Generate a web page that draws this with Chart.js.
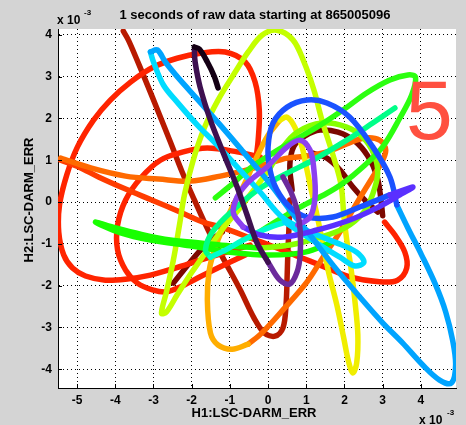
<!DOCTYPE html>
<html lang="en">
<head>
  <meta charset="UTF-8">
  <script src="https://cdn.jsdelivr.net/npm/chart.js"></script>
  <title>H1 vs H2</title>
  <style>
    body { margin: 0; background: #d4d4d4; }
    .grafico { width: 466px; height: 425px; }
  </style>
</head>
<body>
  <div class="grafico">
    <canvas id="graficoLissajous"></canvas>
  </div>

  <script>
    // axis ticks (units of 1e-3)
    const xTicks = [-5, -4, -3, -2, -1, 0, 1, 2, 3, 4];
    const yTicks = [-4, -3, -2, -1, 0, 1, 2, 3, 4];

    // trajectory pieces, [H1, H2], in drawing order
    const maroonA = [[-2.48,-1.94],[-2.04,-1.44],[-1.59,-0.98],[-1.20,-0.72]];
    const maroonB = [[0.63,0.29],[0.57,0.89],[0.68,1.34],[0.97,1.58],[1.36,1.72],[1.83,1.67],[2.27,1.46],[2.61,1.10],[2.85,0.62],[2.95,0.10],[3.00,-0.33]];
    const maroonC = [[1.17,1.17],[1.54,1.05],[1.88,0.77],[2.22,0.36],[2.56,0.02],[2.87,-0.24]];
    const darkRed = [[-3.79,4.09],[-3.66,3.88],[-3.45,3.44],[-3.19,2.87],[-2.87,2.15],[-2.56,1.44],[-2.25,0.72],[-1.93,0.05],[-1.57,-0.67],[-1.15,-1.39],[-0.73,-2.10],[-0.37,-2.77],[-0.10,-3.13],[0.18,-3.21],[0.39,-3.01],[0.47,-2.46],[0.50,-1.75],[0.52,-1.15],[0.55,-0.55],[0.57,0.05]];
    const redBig = [[-0.34,0.89],[-0.26,1.48],[-0.23,2.20],[-0.34,2.87],[-0.60,3.35],[-1.12,3.59],[-1.78,3.56],[-2.38,3.44],[-3.00,3.23],[-3.60,2.87],[-4.13,2.44],[-4.57,1.96],[-4.99,1.32],[-5.27,0.65],[-5.46,-0.07],[-5.48,-0.72],[-5.35,-1.27],[-5.12,-1.58],[-4.78,-1.77],[-4.26,-1.87],[-3.68,-1.84],[-3.08,-1.75],[-2.43,-1.58],[-1.78,-1.39],[-1.17,-1.22],[-0.47,-1.03]];
    const redInner = [[-0.21,1.08],[-0.81,1.20],[-1.59,1.29],[-2.22,1.20],[-2.82,1.00],[-3.34,0.57],[-3.73,0.05],[-3.94,-0.55],[-3.94,-1.15],[-3.73,-1.63],[-3.42,-1.94],[-3.03,-2.10],[-2.66,-2.15],[-2.25,-2.01],[-1.78,-1.79],[-1.25,-1.55],[-0.60,-1.27]];
    const redRight = [[3.05,-0.48],[3.32,-0.79],[3.58,-1.20],[3.63,-1.58],[3.39,-1.87],[2.92,-1.91],[2.14,-1.79],[1.36,-1.51],[0.84,-1.32],[0.18,-1.08],[-0.47,-0.86]];
    const redOrange = [[-0.47,-0.86],[-1.17,-0.62],[-1.70,-0.48],[-2.35,-0.22],[-3.05,0.05],[-3.73,0.31],[-4.44,0.60],[-4.96,0.84],[-5.43,1.00]];
    const orange = [[-5.43,1.05],[-4.62,0.81],[-3.73,0.62],[-2.87,0.55],[-2.04,0.50],[-1.25,0.62],[-0.55,0.77],[-0.03,0.91],[0.50,1.05],[1.02,1.10],[1.54,1.20],[2.06,1.39],[2.53,1.53],[2.92,1.48],[3.08,1.24],[2.95,0.91],[2.72,0.57],[2.45,0.17],[2.14,-0.31],[1.83,-0.79],[1.44,-1.32],[1.02,-1.91],[0.39,-2.58],[-0.16,-3.13],[-0.52,-3.40]];
    const amber = [[-0.52,-3.40],[-0.94,-3.52],[-1.31,-3.42],[-1.51,-3.13],[-1.59,-2.34],[-1.54,-1.63],[-1.38,-1.08],[-1.15,-0.55],[-0.91,-0.07],[-0.63,0.41],[-0.31,1.05],[0,1.60],[0.31,1.96]];
    const yellow = [[0.31,1.96],[0.50,2.03],[0.70,1.79],[0.89,1.32],[0.99,0.89],[1.12,0.33],[1.28,-0.31],[1.44,-1.03],[1.59,-1.70],[1.80,-2.46],[1.98,-3.25],[2.11,-3.83],[2.22,-4.09],[2.32,-3.85],[2.35,-3.18],[2.27,-2.34],[2.17,-1.58],[2.06,-0.91],[1.98,-0.31]];
    const yellowGreen = [[1.98,-0.31],[1.91,0.41],[1.70,1.12],[1.41,1.96],[1.20,2.68],[0.94,3.35],[0.65,3.88],[0.23,4.11],[-0.16,3.99],[-0.52,3.59],[-0.86,3.11],[-1.31,2.44],[-1.67,1.77],[-1.96,1.00],[-2.19,0.17],[-2.32,-0.55],[-2.48,-1.39],[-2.66,-2.15],[-2.79,-2.66],[-2.66,-2.63],[-2.38,-2.22],[-2.01,-1.70],[-1.59,-1.15],[-1.17,-0.62],[-0.78,-0.19],[-0.34,0.33],[0.05,0.81]];
    const chartreuse = [[0.05,0.81],[0.37,1.29],[0.76,1.67],[1.41,1.89],[2.06,1.79],[2.48,1.55],[2.77,1.15],[2.87,0.69],[2.74,0.19],[2.51,-0.24],[2.01,-0.62],[1.31,-0.86],[0.57,-1.03],[-0.21,-1.10]];
    const green = [[-0.21,-1.10],[-0.99,-1.05],[-1.78,-0.98],[-2.56,-0.91],[-3.34,-0.77],[-3.99,-0.62],[-4.52,-0.48],[-3.86,-0.74],[-3.08,-0.91],[-2.04,-1.05],[-0.99,-1.20],[0.05,-1.27],[0.97,-1.20],[1.62,-0.98]];
    const greenLoop = [[-1.38,0.10],[-0.91,0.45],[-0.47,0.81],[0.39,1.32],[1.28,1.79],[1.96,2.20],[2.58,2.61],[3.19,2.92],[3.66,3.04],[3.86,2.99],[3.76,2.56],[3.45,2.01],[3.00,1.32],[2.48,0.84],[1.96,0.45],[1.54,0.21],[0.84,-0.12],[0.18,-0.48],[-0.47,-0.86]];
    const springGreen = [[3.32,2.25],[2.74,1.89],[2.06,1.48],[1.17,1.00],[0.50,0.69],[-0.21,0.33],[-0.91,-0.19],[-1.46,-0.72],[-1.64,-1.15],[-1.51,-1.32]];
    const turquoise = [[-1.51,-1.32],[-1.12,-1.15],[-0.65,-0.91],[-0.13,-0.67],[0.44,-0.48]];
    const cyan = [[0.44,-0.48],[0.84,-0.72],[1.36,-1.03],[1.88,-1.32],[2.27,-1.53],[2.51,-1.44],[2.32,-1.20],[1.75,-0.96],[1.10,-0.72],[0.39,-0.38],[-0.21,0.24],[-0.81,0.84],[-1.33,1.36],[-1.85,1.84],[-2.38,2.39],[-2.74,2.80],[-3.00,3.35],[-3.08,3.59]];
    const lightBlue = [[-3.08,3.59],[-2.90,3.64],[-2.69,3.35],[-2.35,2.97],[-1.83,2.44],[-1.25,1.84],[-0.65,1.20],[-0.03,0.53],[0.57,-0.19],[1.10,-0.79],[1.70,-1.51],[2.40,-2.27],[3.00,-2.89],[3.52,-3.37],[4.05,-3.90],[4.49,-4.26],[4.80,-4.33],[4.91,-3.90],[4.83,-3.30],[4.65,-2.63],[4.39,-1.99],[4.02,-1.27],[3.66,-0.62],[3.37,-0.07]];
    const blue = [[3.37,-0.07],[3.19,0.60],[2.74,1.32],[2.14,2.03],[1.54,2.37],[1.02,2.44],[0.50,2.27],[0.13,1.89],[0,1.32],[0.05,0.77],[0.23,0.29],[0.57,-0.12],[1.02,-0.36],[1.70,-0.36],[2.40,-0.12],[3.19,0.17]];
    const violet = [[3.19,0.17],[3.79,0.36],[3.45,0.17],[2.85,-0.14],[2.14,-0.43],[1.28,-0.67],[0.39,-0.84],[-0.21,-0.79],[-0.65,-0.60]];
    const purpleLight = [[-0.65,-0.60],[-0.91,-0.26],[-0.81,0.12],[-0.55,0.45],[-0.03,0.84],[0.50,1.32],[0.84,1.48],[1.10,1.24],[1.20,0.77],[1.23,0.12],[1.10,-0.36],[0.78,-0.55]];
    const purple = [[0.39,0.60],[0.60,0.24],[0.76,-0.19],[0.84,-0.67],[0.84,-1.27],[0.76,-1.67],[0.57,-1.96],[0.31,-1.87],[0,-1.44]];
    const darkPurple = [[0,-1.44],[-0.29,-0.98],[-0.55,-0.31],[-0.81,0.36],[-1.17,1.17],[-1.51,1.96],[-1.78,2.75],[-1.91,3.35],[-1.93,3.64]];
    const black = [[-1.93,3.71],[-1.80,3.66],[-1.59,3.35],[-1.41,3.01],[-1.31,2.73]];

    const pieces = [maroonA, maroonB, maroonC, darkRed, redBig, redInner, redRight, redOrange, orange, amber,
      yellow, yellowGreen, chartreuse, green, greenLoop, springGreen, turquoise, cyan, lightBlue, blue,
      violet, purpleLight, purple, darkPurple, black];
    const colors = ["#7c0800", "#7c0800", "#7c0800", "#b81a00", "#ff2400", "#ff2400", "#ff2200", "#ff3c00", "#ff6a00", "#ffae00",
      "#f0ee00", "#c4ff00", "#86ff00", "#18ff00", "#2cff10", "#00ff88", "#00ffcc", "#00dcff", "#00a4ff", "#1a52ff",
      "#5a30ff", "#8c40f0", "#6c2a9c", "#3e1050", "#140014"];

    const datasets = pieces.map((p, i) => ({
      data: p.map(v => ({ x: v[0], y: v[1] })),
      showLine: true,
      borderColor: colors[i],
      borderWidth: 5.5,
      borderCapStyle: "round",
      borderJoinStyle: "round",
      tension: 0.35,
      pointRadius: 0,
      order: pieces.length - i
    }));

    const textos = {
      id: "textos",
      afterDatasetsDraw(chart) {
        const c = chart.ctx;
        c.save();
        c.fillStyle = "#ff5040";
        c.font = "84px 'Liberation Sans', Arial, sans-serif";
        c.textAlign = "left";
        c.textBaseline = "alphabetic";
        c.fillText("5", 406, 139);
        c.restore();
      },
      afterDraw(chart) {
        const c = chart.ctx;
        const xs = chart.scales.x, ys = chart.scales.y;
        c.save();
        // inward tick marks
        c.strokeStyle = "#000";
        c.lineWidth = 1;
        c.beginPath();
        xTicks.forEach(t => {
          const px = Math.round(xs.getPixelForValue(t)) + 0.5;
          c.moveTo(px, ys.bottom);
          c.lineTo(px, ys.bottom - 4);
        });
        yTicks.forEach(t => {
          const py = Math.round(ys.getPixelForValue(t)) + 0.5;
          c.moveTo(xs.left, py);
          c.lineTo(xs.left + 4, py);
        });
        c.stroke();

        c.fillStyle = "#000";
        c.textBaseline = "middle";
        c.font = "bold 13px 'Liberation Sans', Arial, sans-serif";
        c.textAlign = "center";
        c.fillText("1 seconds of raw data starting at 865005096", 255, 15);
        c.fillText("H1:LSC-DARM_ERR", 254, 413);
        c.textAlign = "left";
        c.font = "bold 12px 'Liberation Sans', Arial, sans-serif";
        c.fillText("x 10", 57, 21);
        c.fillText("x 10", 419, 421);
        c.font = "bold 8px 'Liberation Sans', Arial, sans-serif";
        c.fillText("-3", 84, 13);
        c.fillText("-3", 447, 413);
        c.font = "bold 13px 'Liberation Sans', Arial, sans-serif";
        c.translate(29, 200);
        c.rotate(-Math.PI / 2);
        c.textAlign = "center";
        c.fillText("H2:LSC-DARM_ERR", 0, 0);
        c.restore();
      }
    };

    const fundo = {
      id: "fundo",
      beforeDraw(chart) {
        const c = chart.ctx, a = chart.chartArea;
        c.save();
        c.fillStyle = "#d4d4d4";
        c.fillRect(0, 0, chart.width, chart.height);
        c.fillStyle = "#ffffff";
        c.fillRect(a.left, a.top, a.right - a.left, a.bottom - a.top);
        c.restore();
      }
    };

    const ctx = document.getElementById("graficoLissajous").getContext("2d");
    new Chart(ctx, {
      type: "scatter",
      data: { datasets: datasets },
      options: {
        responsive: true,
        maintainAspectRatio: false,
        animation: false,
        layout: { padding: { top: 29, right: 10, left: 0, bottom: 0 } },
        plugins: { legend: { display: false }, tooltip: { enabled: false } },
        scales: {
          x: {
            type: "linear",
            min: -5.5,
            max: 4.92,
            afterBuildTicks: s => { s.ticks = xTicks.map(v => ({ value: v })); },
            afterFit: s => { s.height = 37; },
            ticks: { color: "#000", padding: 5, maxRotation: 0, font: { family: "'Liberation Sans', Arial", size: 12, weight: "bold" } },
            grid: { color: "#000", lineWidth: 1, drawTicks: false },
            border: { display: true, color: "#000", width: 1, dash: [1, 3] }
          },
          y: {
            type: "linear",
            min: -4.45,
            max: 4.14,
            afterBuildTicks: s => { s.ticks = yTicks.map(v => ({ value: v })); },
            afterFit: s => { s.width = 58; },
            ticks: { color: "#000", padding: 6, font: { family: "'Liberation Sans', Arial", size: 12, weight: "bold" } },
            grid: { color: "#000", lineWidth: 1, drawTicks: false },
            border: { display: true, color: "#000", width: 1, dash: [1, 3] }
          }
        }
      },
      plugins: [fundo, textos]
    });
  </script>
</body>
</html>
